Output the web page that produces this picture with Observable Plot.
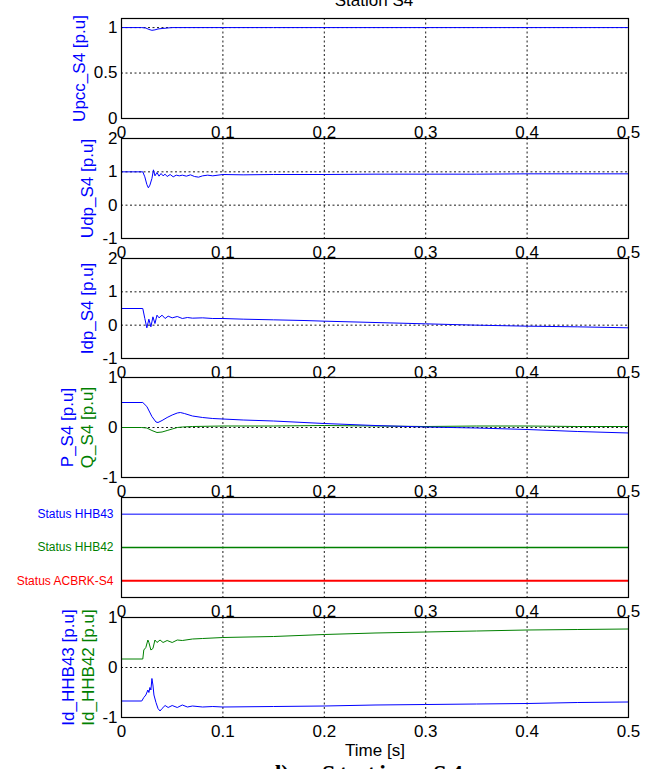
<!DOCTYPE html>
<html><head><meta charset="utf-8">
<script src="https://cdn.jsdelivr.net/npm/d3@7"></script>
<script src="https://cdn.jsdelivr.net/npm/@observablehq/plot@0.6"></script>
<style>
html,body{margin:0;padding:0;background:#fff;}
#wrap{position:relative;width:658px;height:769px;overflow:hidden;background:#fff;}
#wrap svg{position:absolute;left:0;max-width:none !important;}
</style></head><body><div id="wrap"></div>
<script>
// ---------- data ----------
const xTicks = [0, 0.1, 0.2, 0.3, 0.4, 0.5];

const upccT = [0, 0.02, 0.024, 0.027, 0.03, 0.033, 0.036, 0.04, 0.045, 0.05, 0.1, 0.15, 0.2, 0.25, 0.3, 0.35, 0.4, 0.45, 0.5];
const upccV = [1.0, 1.0, 0.995, 0.98, 0.97, 0.975, 0.985, 0.99, 0.995, 1.0, 1.0, 1.0, 1.0, 1.0, 1.0, 1.0, 1.0, 1.0, 1.0];

const udpT = [0, 0.021, 0.023, 0.025, 0.0265, 0.028, 0.030, 0.0315, 0.033, 0.035, 0.037, 0.039, 0.041, 0.043, 0.045, 0.048, 0.051, 0.054, 0.057, 0.06, 0.064, 0.068, 0.072, 0.076, 0.08, 0.085, 0.09, 0.1, 0.12, 0.15, 0.2, 0.25, 0.3, 0.35, 0.4, 0.45, 0.5];
const udpV = [1.0, 1.0, 0.85, 0.62, 0.52, 0.6, 0.8, 1.06, 0.88, 0.98, 0.87, 0.95, 0.88, 0.93, 0.86, 0.92, 0.85, 0.9, 0.88, 0.9, 0.87, 0.91, 0.86, 0.84, 0.88, 0.9, 0.88, 0.92, 0.91, 0.92, 0.92, 0.93, 0.93, 0.93, 0.94, 0.94, 0.94];

const idpT = [0, 0.021, 0.023, 0.025, 0.027, 0.029, 0.031, 0.033, 0.035, 0.037, 0.04, 0.043, 0.046, 0.05, 0.055, 0.06, 0.065, 0.07, 0.08, 0.09, 0.1, 0.12, 0.15, 0.18, 0.2, 0.25, 0.3, 0.35, 0.4, 0.45, 0.5];
const idpV = [0.5, 0.5, 0.2, -0.08, 0.18, -0.05, 0.25, 0.05, 0.3, 0.22, 0.3, 0.2, 0.27, 0.22, 0.26, 0.2, 0.23, 0.21, 0.22, 0.2, 0.2, 0.18, 0.16, 0.14, 0.12, 0.08, 0.04, 0.0, -0.03, -0.05, -0.08];

const pT = [0, 0.021, 0.025, 0.03, 0.034, 0.036, 0.04, 0.045, 0.05, 0.055, 0.058, 0.062, 0.07, 0.08, 0.09, 0.1, 0.12, 0.15, 0.2, 0.25, 0.3, 0.35, 0.4, 0.45, 0.5];
const pV = [0.5, 0.5, 0.42, 0.22, 0.11, 0.1, 0.14, 0.2, 0.25, 0.29, 0.3, 0.28, 0.23, 0.2, 0.18, 0.17, 0.15, 0.13, 0.08, 0.04, 0.01, -0.01, -0.04, -0.08, -0.11];

const qT = [0, 0.02, 0.025, 0.03, 0.035, 0.04, 0.045, 0.05, 0.055, 0.06, 0.07, 0.1, 0.15, 0.2, 0.3, 0.35, 0.4, 0.45, 0.5];
const qV = [0, 0, -0.01, -0.06, -0.1, -0.09, -0.06, -0.03, 0.0, 0.01, 0.02, 0.03, 0.03, 0.04, 0.02, 0.03, 0.03, 0.02, 0.02];

const statusNames = ["Status HHB43", "Status HHB42", "Status ACBRK-S4"];
const statusLevels = [5, 3, 1];
const statusColors = ["#0000ff", "#008000", "#ff0000"];
const statusWidths = [1, 1.5, 2];

const hhb42T = [0, 0.021, 0.022, 0.024, 0.026, 0.027, 0.029, 0.031, 0.033, 0.035, 0.038, 0.041, 0.045, 0.05, 0.055, 0.06, 0.07, 0.08, 0.1, 0.15, 0.2, 0.25, 0.3, 0.35, 0.4, 0.45, 0.5];
const hhb42V = [0.17, 0.17, 0.35, 0.4, 0.55, 0.5, 0.35, 0.38, 0.55, 0.5, 0.55, 0.5, 0.54, 0.5, 0.55, 0.54, 0.57, 0.58, 0.6, 0.62, 0.66, 0.69, 0.71, 0.73, 0.75, 0.76, 0.77];

const hhb43T = [0, 0.02, 0.022, 0.024, 0.026, 0.027, 0.028, 0.029, 0.030, 0.031, 0.032, 0.034, 0.036, 0.038, 0.04, 0.043, 0.046, 0.05, 0.055, 0.06, 0.065, 0.07, 0.08, 0.09, 0.1, 0.15, 0.2, 0.25, 0.3, 0.35, 0.4, 0.45, 0.5];
const hhb43V = [-0.67, -0.67, -0.6, -0.55, -0.45, -0.5, -0.4, -0.45, -0.22, -0.35, -0.55, -0.7, -0.82, -0.87, -0.82, -0.76, -0.8, -0.76, -0.8, -0.75, -0.79, -0.77, -0.79, -0.78, -0.79, -0.78, -0.77, -0.75, -0.74, -0.73, -0.72, -0.7, -0.69];

// ---------- helpers ----------
const FONT = "'Liberation Sans', Arial, Helvetica, sans-serif";
const BLUE = "#0000ff", GREEN = "#008000";
const frameTops = [18, 138, 258, 377, 497, 617];
const zip = (T, V) => T.map((t, i) => ({t, v: V[i]}));
const wrap = document.getElementById("wrap");

function panel(i, {yDomain, yTicks, lines = [], labels = [], extra = [], yAxis = true, gridY = true, bottom = 30}) {
  const top = 20;
  const marks = [
    Plot.frame({fill: "white", stroke: null}),
    Plot.gridX(xTicks, {stroke: "black", strokeOpacity: 0.9, strokeDasharray: "2,2.5"}),
  ];
  if (gridY) marks.push(Plot.gridY(yTicks, {stroke: "black", strokeOpacity: 0.9, strokeDasharray: "2,2.5"}));
  for (const l of lines) marks.push(Plot.line(l.data, {x: "t", y: "v", stroke: l.color, strokeWidth: 1}));
  marks.push(...extra);
  marks.push(Plot.axisX(xTicks, {anchor: "bottom", tickSize: 0, tickPadding: 7, tickFormat: d => String(d), label: null, fontSize: 17}));
  if (yAxis) marks.push(Plot.axisY(yTicks, {anchor: "left", tickSize: 0, tickPadding: 4, tickFormat: d => String(d), label: null, fontSize: 17}));
  marks.push(Plot.frame({stroke: "black", strokeWidth: 1.2}));
  for (const lb of labels) {
    marks.push(Plot.text([lb.text], {frameAnchor: "left", dx: lb.dx, rotate: -90, textAnchor: "middle", fill: lb.color, fontSize: 17, text: d => d}));
  }
  const svg = Plot.plot({
    width: 658, height: top + 100 + bottom,
    marginLeft: 121, marginRight: 30, marginTop: top, marginBottom: bottom,
    style: {background: "transparent", overflow: "visible", fontFamily: FONT, fontSize: "17px", color: "black", maxWidth: "none"},
    x: {domain: [0, 0.5], axis: null},
    y: {domain: yDomain, axis: null},
    marks
  });
  svg.style.top = (frameTops[i] - top) + "px";
  svg.style.position = "absolute";
  wrap.appendChild(svg);
  return svg;
}

panel(0, {yDomain: [0, 1.1], yTicks: [0, 0.5, 1],
  lines: [{data: zip(upccT, upccV), color: BLUE}],
  labels: [{text: "Upcc_S4 [p.u]", color: BLUE, dx: -42}]});

panel(1, {yDomain: [-1, 2], yTicks: [-1, 0, 1, 2],
  lines: [{data: zip(udpT, udpV), color: BLUE}],
  labels: [{text: "Udp_S4 [p.u]", color: BLUE, dx: -34}]});

panel(2, {yDomain: [-1, 2], yTicks: [-1, 0, 1, 2],
  lines: [{data: zip(idpT, idpV), color: BLUE}],
  labels: [{text: "Idp_S4 [p.u]", color: BLUE, dx: -34}]});

panel(3, {yDomain: [-1, 1], yTicks: [-1, 0, 1],
  lines: [{data: zip(qT, qV), color: GREEN}, {data: zip(pT, pV), color: BLUE}],
  labels: [{text: "P_S4 [p.u]", color: BLUE, dx: -54}, {text: "Q_S4 [p.u]", color: GREEN, dx: -34}]});

const statusData = statusNames.map((n, k) => ({name: n, v: statusLevels[k], color: statusColors[k], w: statusWidths[k]}));
panel(4, {yDomain: [0, 6], yTicks: statusLevels, yAxis: false, gridY: false,
  extra: [
    ...statusData.map(d => Plot.ruleY([d], {y: "v", stroke: d.color, strokeWidth: d.w})),
    Plot.text(statusData, {y: "v", text: "name", fill: "color", frameAnchor: "left", textAnchor: "end", dx: -8, fontSize: 12})
  ]});

panel(5, {yDomain: [-1, 1], yTicks: [-1, 0, 1], bottom: 50,
  lines: [{data: zip(hhb42T, hhb42V), color: GREEN}, {data: zip(hhb43T, hhb43V), color: BLUE}],
  labels: [{text: "Id_HHB43 [p.u]", color: BLUE, dx: -53}, {text: "Id_HHB42 [p.u]", color: GREEN, dx: -33}],
  extra: [Plot.text(["Time [s]"], {frameAnchor: "bottom", dy: 26, lineAnchor: "top", fontSize: 17, text: d => d})]});

// title and caption (cropped like the reference)
const ns = "http://www.w3.org/2000/svg";
const ov = document.createElementNS(ns, "svg");
ov.setAttribute("width", 658); ov.setAttribute("height", 769);
ov.style.top = "0px"; ov.style.pointerEvents = "none";
ov.innerHTML = `
<text x="374" y="6" text-anchor="middle" font-family="${FONT}" font-size="17">Station S4</text>
<text x="268" y="781" font-family="'Liberation Serif', 'Times New Roman', serif" font-size="24" font-weight="bold">d)</text>
<text x="322" y="781" font-family="'Liberation Serif', 'Times New Roman', serif" font-size="24" font-weight="bold" letter-spacing="4">Station S4</text>`;
wrap.appendChild(ov);
</script></body></html>
